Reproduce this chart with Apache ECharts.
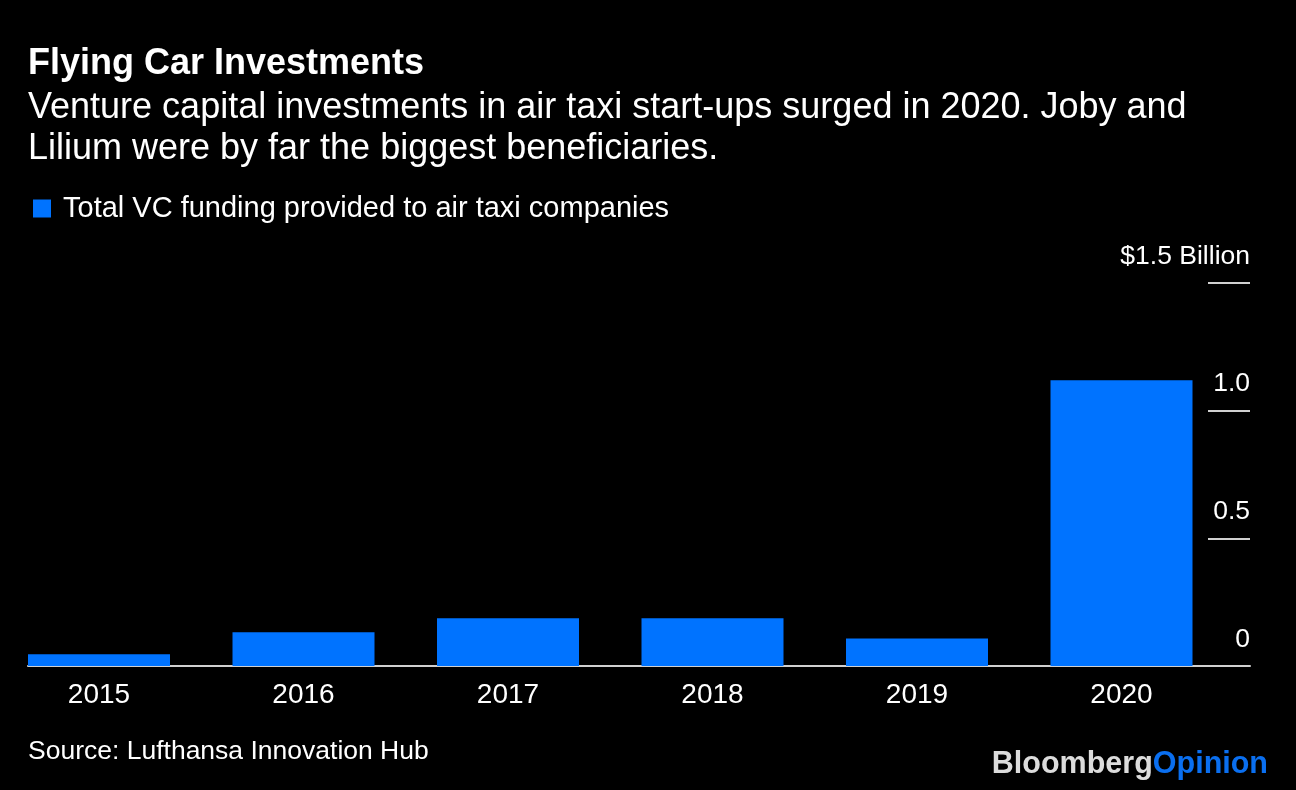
<!DOCTYPE html>
<html>
<head>
<meta charset="utf-8">
<script src="https://cdn.jsdelivr.net/npm/echarts@6/dist/echarts.min.js"></script>
<style>
html,body{margin:0;padding:0;background:#000;}
#chart{width:1296px;height:790px;}
</style>
</head>
<body>
<div id="chart"></div>
<script>
const categories = ['2015', '2016', '2017', '2018', '2019', '2020'];
const funding = [0.046, 0.132, 0.187, 0.187, 0.108, 1.119];
const yTickValues = [0, 0.5, 1, 1.5];
const yTickLabels = ['0', '0.5', '1.0', '$1.5 Billion'];
const seriesName = 'Total VC funding provided to air taxi companies';
const titleText = 'Flying Car Investments';
const subtitleText = 'Venture capital investments in air taxi start-ups surged in 2020. Joby and\nLilium were by far the biggest beneficiaries.';
const sourceText = 'Source: Lufthansa Innovation Hub';

const FONT = '"Liberation Sans", Arial, Helvetica, sans-serif';
const chart = echarts.init(document.getElementById('chart'));

function yLabel(v) {
  for (let i = 0; i < yTickValues.length; i++) {
    if (Math.abs(yTickValues[i] - v) < 1e-9) return yTickLabels[i];
  }
  return '';
}

chart.setOption({
  backgroundColor: '#000',
  animation: false,
  textStyle: { fontFamily: FONT },
  title: [
    { text: titleText, left: 28, top: 42, padding: 0,
      textStyle: { color: '#fff', fontSize: 36, fontWeight: 'bold', lineHeight: 44, fontFamily: FONT } },
    { text: subtitleText, left: 28, top: 87.5, padding: 0,
      textStyle: { color: '#fff', fontSize: 36, fontWeight: 'normal', lineHeight: 41, fontFamily: FONT } },
    { text: sourceText, left: 28, top: 736, padding: 0,
      textStyle: { color: '#fff', fontSize: 26.5, fontWeight: 'normal', lineHeight: 32, fontFamily: FONT } },
    { text: '{a|Bloomberg}{b|Opinion}', right: 28, top: 747, padding: 0,
      textStyle: { lineHeight: 36, fontFamily: FONT,
        rich: {
          a: { color: '#dcdcdc', fontSize: 30.5, fontWeight: 'bold', fontFamily: FONT, lineHeight: 36 },
          b: { color: '#0a6ff0', fontSize: 30.5, fontWeight: 'bold', fontFamily: FONT, lineHeight: 36 }
        } } }
  ],
  legend: {
    left: 28, top: 189,
    icon: 'rect', itemWidth: 18, itemHeight: 18,
    selectedMode: false,
    textStyle: { color: '#fff', fontSize: 29, lineHeight: 29, padding: [0, 0, 0, 7], fontFamily: FONT },
    data: [seriesName]
  },
  grid: [
    { left: 28, right: 46, top: 283, bottom: 124, outerBoundsMode: 'none' },
    { left: -3.25, right: 72.25, top: 283, bottom: 124, outerBoundsMode: 'none' }
  ],
  xAxis: [
    { type: 'category', gridIndex: 0, data: categories,
      axisLine: { show: true, lineStyle: { color: '#d0d0d0', width: 2 } },
      axisTick: { show: false }, axisLabel: { show: false }, splitLine: { show: false } },
    { type: 'category', gridIndex: 1, data: categories,
      axisLine: { show: false }, axisTick: { show: false },
      axisLabel: { color: '#fff', fontSize: 28, margin: 15, fontFamily: FONT } }
  ],
  yAxis: [
    { type: 'value', gridIndex: 0, position: 'right', min: 0, max: 1.5, interval: 0.5,
      axisLine: { show: false },
      axisTick: { show: true, inside: true, length: 42, lineStyle: { color: '#d0d0d0', width: 2 } },
      splitLine: { show: false },
      axisLabel: { inside: true, margin: 0, color: '#fff', fontSize: 26.5, fontFamily: FONT,
        verticalAlign: 'bottom', lineHeight: 53, formatter: yLabel } },
    { type: 'value', gridIndex: 1, min: 0, max: 1.5, interval: 0.5, show: false }
  ],
  series: [
    { name: seriesName, type: 'bar', xAxisIndex: 1, yAxisIndex: 1,
      data: funding, barWidth: 142,
      itemStyle: { color: '#0073ff' }, z: 1 }
  ]
});
</script>
</body>
</html>
